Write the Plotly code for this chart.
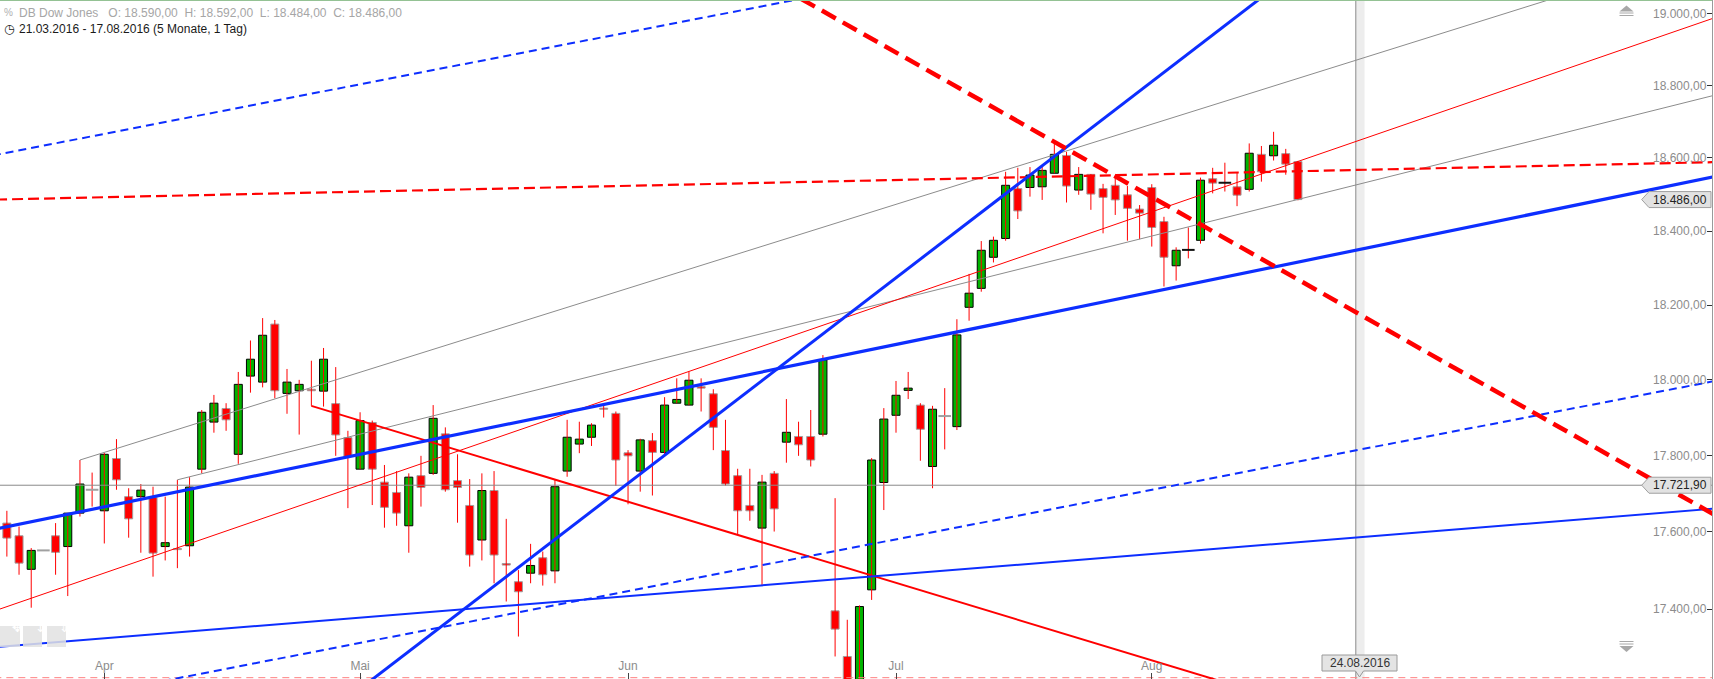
import numpy as np
import pandas as pd
import plotly.graph_objects as go

# ---------------- data ----------------
DATES = [d.strftime("%d.%m.%Y") for d in pd.bdate_range("2016-03-21", "2016-08-17")]

OPEN = [17590, 17623, 17590, 17503, 17552, 17590, 17562, 17649, 17710, 17655,
        17792, 17692, 17692, 17690, 17562, 17557, 17564, 17764, 17888, 17924,
        17803, 18010, 17994, 18149, 17964, 17971, 17975, 17970, 17937, 17847,
        17764, 17887, 17730, 17703, 17616, 17747, 17753, 17857, 17734, 17669,
        17579, 17708, 17518, 17471, 17493, 17533, 17499, 17759, 17830, 17848,
        17925, 17911, 17807, 17759, 17839, 17808, 17938, 17933, 17982, 17963,
        17813, 17747, 17669, 17610, 17753, 17835, 17850, 17850, 17856, 17396,
        17279, 17180, 17450, 17729, 17906, 17972, 17933, 17771, 17904, 17876,
        18194, 18245, 18329, 18380, 18516, 18519, 18521, 18558, 18607, 18512,
        18555, 18516, 18525, 18499, 18460, 18519, 18426, 18306, 18349, 18375,
        18543, 18532, 18521, 18514, 18610, 18606, 18612, 18590]
HIGH = [17640, 17655, 17614, 17558, 17552, 17623, 17649, 17788, 17755, 17807,
        17843, 17714, 17725, 17718, 17692, 17736, 17743, 17920, 17960, 17938,
        18021, 18105, 18165, 18160, 18029, 18000, 18051, 18085, 18034, 17865,
        17914, 17892, 17775, 17759, 17753, 17799, 17933, 17874, 17803, 17738,
        17753, 17759, 17634, 17501, 17569, 17549, 17736, 17894, 17889, 17885,
        17933, 17916, 17814, 17844, 17859, 17954, 18004, 18022, 18004, 17975,
        17894, 17765, 17765, 17749, 17759, 17949, 17889, 17920, 18066, 17688,
        17373, 17410, 17793, 17925, 17997, 18021, 17938, 17931, 17978, 18162,
        18284, 18373, 18385, 18562, 18573, 18575, 18578, 18640, 18617, 18575,
        18556, 18529, 18549, 18523, 18471, 18528, 18439, 18356, 18410, 18546,
        18573, 18587, 18560, 18640, 18633, 18672, 18625, 18592]
LOW = [17570, 17536, 17489, 17404, 17552, 17489, 17434, 17640, 17666, 17570,
       17710, 17585, 17546, 17484, 17526, 17506, 17536, 17753, 17860, 17865,
       17778, 17966, 17980, 17951, 17910, 17855, 17931, 17929, 17799, 17662,
       17764, 17670, 17611, 17616, 17546, 17666, 17749, 17705, 17624, 17510,
       17526, 17467, 17420, 17330, 17467, 17461, 17467, 17744, 17806, 17825,
       17900, 17720, 17672, 17705, 17695, 17801, 17938, 17933, 17916, 17814,
       17721, 17594, 17629, 17460, 17601, 17781, 17799, 17771, 17850, 17279,
       17080, 17160, 17424, 17657, 17860, 17949, 17786, 17714, 17816, 17867,
       18158, 18236, 18315, 18374, 18433, 18494, 18485, 18558, 18478, 18499,
       18458, 18394, 18444, 18374, 18378, 18358, 18250, 18266, 18326, 18366,
       18503, 18508, 18468, 18508, 18535, 18593, 18554, 18484]
CLOSE = [17615, 17584, 17519, 17552, 17552, 17547, 17649, 17725, 17710, 17803,
         17736, 17634, 17709, 17545, 17572, 17554, 17717, 17914, 17938, 17894,
         17988, 18055, 18119, 17971, 17994, 17988, 17971, 18055, 17854, 17797,
         17892, 17764, 17664, 17649, 17743, 17716, 17898, 17710, 17716, 17540,
         17708, 17540, 17514, 17445, 17513, 17489, 17718, 17848, 17843, 17880,
         17922, 17788, 17799, 17841, 17808, 17933, 17948, 17999, 17978, 17874,
         17725, 17655, 17655, 17730, 17660, 17861, 17828, 17788, 18053, 17349,
         17150, 17407, 17788, 17896, 17959, 17978, 17869, 17922, 17904, 18120,
         18232, 18348, 18375, 18525, 18455, 18553, 18566, 18610, 18523, 18555,
         18501, 18492, 18485, 18462, 18449, 18410, 18329, 18348, 18349, 18539,
         18531, 18532, 18498, 18613, 18562, 18635, 18583, 18486]

MONTH_LABELS = ["Apr", "Mai", "Jun", "Jul", "Aug"]
MONTH_FIRST_DAYS = ["01.04.2016", "02.05.2016", "01.06.2016", "01.07.2016", "01.08.2016"]
Y_TICKS = [17400, 17600, 17800, 18000, 18200, 18400, 18600, 18800, 19000]

# drawn trend lines: x = trading-day index counted from 21.03.2016, y = price
BLUE_DASH_UPPER_X, BLUE_DASH_UPPER_Y = [-1.2, 74.33], [18600, 19097]
RED_THICK_DASH_X, RED_THICK_DASH_Y = [64.48, 143.3], [19076, 17607]
RED_FLAT_DASH_X, RED_FLAT_DASH_Y = [-1.2, 143.3], [18485, 18590]
BLUE_TREND_X, BLUE_TREND_Y = [-1.2, 143.3], [17599, 18563]
BLUE_STEEP_X, BLUE_STEEP_Y = [29.17, 106.35], [17177, 19108]
BLUE_THIN_X, BLUE_THIN_Y = [-1.2, 143.3], [17300, 17666]
BLUE_DASH_LOWER_X, BLUE_DASH_LOWER_Y = [12.75, 143.3], [17210, 18010]
RED_CHANNEL_X, RED_CHANNEL_Y = [-1.2, 143.3], [17383, 19014]
GREY_UPPER_X, GREY_UPPER_Y = [7, 131.8], [17788, 19085]
GREY_LOWER_X, GREY_LOWER_Y = [15, 143.3], [17736, 18791]
RED_DOWN_X, RED_DOWN_Y = [26, 107.17], [17931, 17155]

LAST_PRICE = 18486.00
MARK_LEVEL = 17721.90
BOTTOM_LEVEL = 17225
CURSOR_INDEX = 111.75
CURSOR_LABEL = "24.08.2016"
HEADER_1 = "DB Dow Jones\u00a0\u00a0\u00a0O: 18.590,00\u00a0\u00a0H: 18.592,00\u00a0\u00a0L: 18.484,00\u00a0\u00a0C: 18.486,00"
HEADER_2 = "21.03.2016 - 17.08.2016 (5 Monate, 1 Tag)"

# ---------------- geometry ----------------
W, H = 1714, 679
PLOT_W, PLOT_H = 1712, 679
X_RANGE = [0.437, 140.995]
Y_LO, Y_HI = 17221.6, 19039.3
FONT = "Liberation Sans, Arial, sans-serif"
BLUE = "#0d2eff"
RED = "#ff0000"


def px2x(px):
    return X_RANGE[0] + px / PLOT_W * (X_RANGE[1] - X_RANGE[0])


def py2p(py):
    return float(np.exp(np.log(Y_HI) - py / PLOT_H * np.log(Y_HI / Y_LO)))


def p2py(p):
    return (np.log(Y_HI) - np.log(p)) / np.log(Y_HI / Y_LO) * PLOT_H


idx = np.arange(len(CLOSE))
o, h, l, c = map(np.array, (OPEN, HIGH, LOW, CLOSE))

fig = go.Figure()

# wicks
wx, wy = [], []
for i in idx:
    if h[i] > l[i]:
        wx += [i, i, None]
        wy += [l[i], h[i], None]
fig.add_trace(go.Scatter(x=wx, y=wy, mode="lines", line=dict(color=RED, width=1),
                         hoverinfo="skip"))

# bodies
body = o != c
up = c > o
fig.add_trace(go.Bar(
    x=idx[body], base=np.minimum(o, c)[body], y=np.abs(c - o)[body], width=0.66,
    marker=dict(color=np.where(up, "#00b400", RED)[body],
                line=dict(color=np.where(up, "#000000", "#a0a0a0")[body], width=1)),
    hoverinfo="skip"))

# doji dashes
doji = ~body
prev = np.concatenate([[c[0]], c[:-1]])
dcol = np.where(c > prev, "#111111", "#a0a0a0")[doji]
fig.add_trace(go.Scatter(x=idx[doji], y=c[doji], mode="markers",
                         marker=dict(symbol="line-ew", size=9,
                                     line=dict(color=dcol, width=2)),
                         hoverinfo="skip"))


def tl(x, y, color, width, dash="solid"):
    fig.add_trace(go.Scatter(x=x, y=y, mode="lines",
                             line=dict(color=color, width=width, dash=dash),
                             hoverinfo="skip"))


tl([-2, 145], [MARK_LEVEL, MARK_LEVEL], "#8a8a8a", 1)
tl([-2, 145], [BOTTOM_LEVEL, BOTTOM_LEVEL], "#ff8080", 1, "7px,5px")
tl(GREY_UPPER_X, GREY_UPPER_Y, "#8c8c8c", 1)
tl(GREY_LOWER_X, GREY_LOWER_Y, "#8c8c8c", 1)
tl(RED_CHANNEL_X, RED_CHANNEL_Y, RED, 1)
tl(RED_DOWN_X, RED_DOWN_Y, RED, 2)
tl(RED_FLAT_DASH_X, RED_FLAT_DASH_Y, RED, 2.2, "11px,5px")
tl(BLUE_DASH_UPPER_X, BLUE_DASH_UPPER_Y, BLUE, 2, "8px,5px")
tl(BLUE_DASH_LOWER_X, BLUE_DASH_LOWER_Y, BLUE, 2, "8px,5px")
tl(BLUE_THIN_X, BLUE_THIN_Y, BLUE, 2)
tl(BLUE_TREND_X, BLUE_TREND_Y, BLUE, 3.2)
tl(BLUE_STEEP_X, BLUE_STEEP_Y, BLUE, 3)
tl(RED_THICK_DASH_X, RED_THICK_DASH_Y, RED, 4.5, "16px,8px")


# price tags on the right
def price_tag(p, text):
    py = p2py(p)
    pts = [(1641.7, py), (1649, py - 8), (1711, py - 8), (1711, py + 8), (1649, py + 8), (1641.7, py)]
    fig.add_trace(go.Scatter(x=[px2x(a) for a, b in pts], y=[py2p(b) for a, b in pts],
                             mode="lines", fill="toself", fillcolor="#e2e2e2",
                             line=dict(color="#a0a0a0", width=1), hoverinfo="skip"))
    fig.add_annotation(x=px2x(1680), y=np.log10(p), text=text, showarrow=False,
                       font=dict(size=12, color="#222", family=FONT))


price_tag(LAST_PRICE, "18.486,00")
price_tag(MARK_LEVEL, "17.721,90")

# cursor date tag at bottom
cx = 1359.5
pts = [(cx - 37.5, 655), (cx + 37.5, 655), (cx + 37.5, 671), (cx + 4, 671), (cx, 677),
       (cx - 4, 671), (cx - 37.5, 671), (cx - 37.5, 655)]
fig.add_trace(go.Scatter(x=[px2x(a) for a, b in pts], y=[py2p(b) for a, b in pts],
                         mode="lines", fill="toself", fillcolor="#e4e4e4",
                         line=dict(color="#9a9a9a", width=1), hoverinfo="skip"))
fig.add_annotation(x=px2x(cx), y=np.log10(py2p(663)), text=CURSOR_LABEL, showarrow=False,
                   font=dict(size=12, color="#333", family=FONT))

shapes = [
    dict(type="rect", xref="x", yref="paper", x0=CURSOR_INDEX, x1=CURSOR_INDEX + 0.72,
         y0=0, y1=1, fillcolor="#ededed", line=dict(width=0), layer="below"),
    dict(type="line", xref="x", yref="paper", x0=CURSOR_INDEX, x1=CURSOR_INDEX,
         y0=0, y1=1, line=dict(color="#8a8a8a", width=1), layer="below"),
    dict(type="line", xref="paper", yref="paper", x0=0, x1=1, y0=1, y1=1,
         line=dict(color="#94c294", width=2)),
]


def pp(px, py):
    return px / PLOT_W, 1 - py / PLOT_H


def path(points):
    s = ""
    for k, (a, b) in enumerate(points):
        xa, ya = pp(a, b)
        s += ("M" if k == 0 else "L") + f"{xa:.5f},{ya:.5f} "
    return s + "Z"


# scroll icons at right
shapes.append(dict(type="path", xref="paper", yref="paper",
                   path=path([(1626.5, 5.5), (1619.5, 11.5), (1633.5, 11.5)]),
                   fillcolor="#a8a8a8", line=dict(width=0)))
for yy in (13, 15.5):
    x0, y0 = pp(1619.5, yy)
    x1, _ = pp(1633.5, yy)
    shapes.append(dict(type="line", xref="paper", yref="paper", x0=x0, x1=x1, y0=y0, y1=y0,
                       line=dict(color="#a8a8a8", width=1)))
shapes.append(dict(type="path", xref="paper", yref="paper",
                   path=path([(1619.5, 646), (1633.5, 646), (1626.5, 652)]),
                   fillcolor="#a8a8a8", line=dict(width=0)))
for yy in (641.5, 644):
    x0, y0 = pp(1619.5, yy)
    x1, _ = pp(1633.5, yy)
    shapes.append(dict(type="line", xref="paper", yref="paper", x0=x0, x1=x1, y0=y0, y1=y0,
                       line=dict(color="#a8a8a8", width=1)))

# bottom-left buttons
for (bx0, bx1), sym in zip([(0, 20), (23, 42), (47, 66)], ["✥", "↓", "⇕"]):
    x0, y0 = pp(bx0, 647)
    x1, y1 = pp(bx1, 626)
    shapes.append(dict(type="rect", xref="paper", yref="paper", x0=x0, x1=x1, y0=y0, y1=y1,
                       fillcolor="#e2e2e2", opacity=0.85, line=dict(width=0), layer="above"))
    xm, ym = pp((bx0 + bx1) / 2, 636.5)
    fig.add_annotation(xref="paper", yref="paper", x=xm, y=ym, text=sym, showarrow=False,
                       font=dict(size=13, color="#ffffff", family="DejaVu Sans"))

# header
hx, hy1 = pp(16.5, 12.8)
_, hy2 = pp(16.5, 29)
fig.add_annotation(xref="paper", yref="paper", x=hx, y=hy1, xanchor="left", yanchor="middle",
                   text=HEADER_1, showarrow=False, font=dict(size=12, color="#a6a6a6", family=FONT))
fig.add_annotation(xref="paper", yref="paper", x=hx, y=hy2, xanchor="left", yanchor="middle",
                   text=HEADER_2, showarrow=False, font=dict(size=12, color="#1a1a1a", family=FONT))
ix, _ = pp(2, 0)
fig.add_annotation(xref="paper", yref="paper", x=ix, y=hy1, xanchor="left", yanchor="middle",
                   text="%", showarrow=False, font=dict(size=10, color="#b0b0b0", family=FONT))
fig.add_annotation(xref="paper", yref="paper", x=ix, y=hy2, xanchor="left", yanchor="middle",
                   text="◷", showarrow=False, font=dict(size=12, color="#1a1a1a", family="DejaVu Sans"))

tick_idx = [DATES.index(d) for d in MONTH_FIRST_DAYS]

fig.update_layout(
    width=W, height=H,
    margin=dict(l=0, r=W - PLOT_W, t=0, b=0),
    paper_bgcolor="white", plot_bgcolor="white",
    showlegend=False, separators=",.", barmode="overlay",
    hovermode=False, shapes=shapes,
    font=dict(family=FONT),
    xaxis=dict(range=X_RANGE, tickvals=tick_idx, ticktext=MONTH_LABELS,
               ticklabelposition="inside", ticks="inside", ticklen=6, tickcolor="#444",
               tickfont=dict(size=12, color="#8c8c8c", family=FONT),
               showgrid=False, zeroline=False, showline=False, fixedrange=True),
    yaxis=dict(type="log", range=[np.log10(Y_LO), np.log10(Y_HI)], side="right",
               tickvals=Y_TICKS, tickformat=",.2f", ticklabelposition="inside",
               ticks="inside", ticklen=5, tickcolor="#333",
               tickfont=dict(size=12, color="#8c8c8c", family=FONT),
               showgrid=False, zeroline=False, showline=True, linecolor="#9a9a9a",
               linewidth=1, fixedrange=True),
)

fig.write_html("out.html", config={"displayModeBar": False},
               post_script="document.body.style.margin='0';document.body.style.overflow='hidden';")
